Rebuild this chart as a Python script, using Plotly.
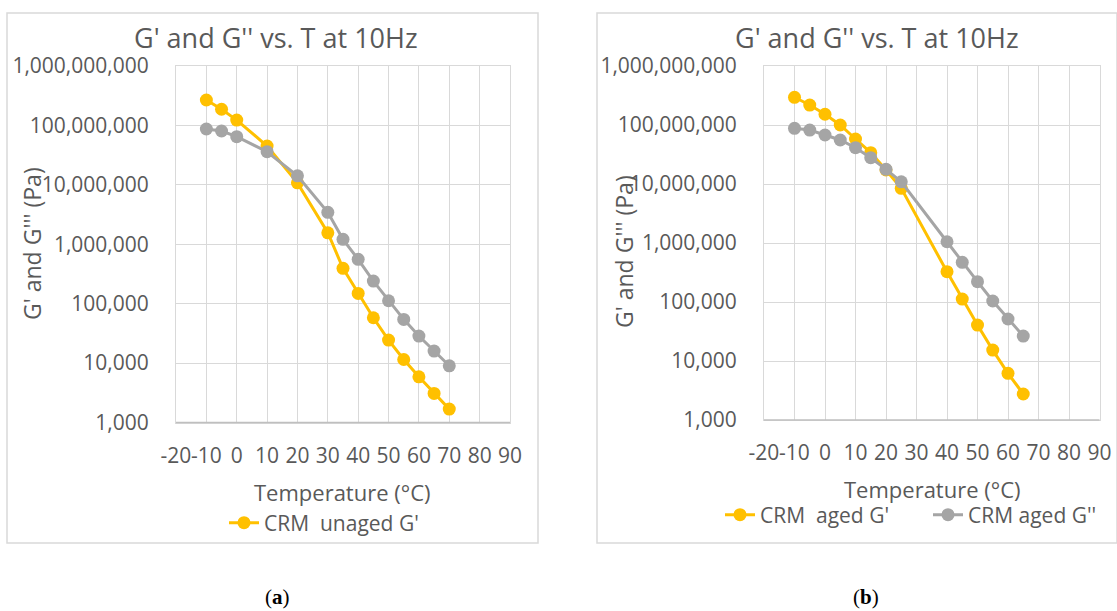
import plotly.graph_objects as go

# ---------------- data ----------------
T_a = [-10, -5, 0, 10, 20, 30, 35, 40, 45, 50, 55, 60, 65, 70]
Gp_unaged = [2.68e8, 1.87e8, 1.23e8, 4.5e7, 1.08e7, 1.56e6, 3.93e5, 1.49e5,
             5.79e4, 2.44e4, 1.15e4, 5.88e3, 3.09e3, 1.68e3]
Gpp_unaged = [8.7e7, 8.05e7, 6.46e7, 3.61e7, 1.42e7, 3.44e6, 1.21e6, 5.57e5,
              2.4e5, 1.12e5, 5.44e4, 2.85e4, 1.59e4, 9.0e3]

T_b = [-10, -5, 0, 5, 10, 15, 20, 25, 40, 45, 50, 55, 60, 65]
Gp_aged = [2.95e8, 2.18e8, 1.52e8, 1.0e8, 5.79e7, 3.4e7, 1.73e7, 8.45e6,
           3.26e5, 1.12e5, 4.07e4, 1.53e4, 6.19e3, 2.76e3]
Gpp_aged = [8.8e7, 8.2e7, 6.77e7, 5.57e7, 4.12e7, 2.79e7, 1.77e7, 1.09e7,
            1.05e6, 4.71e5, 2.21e5, 1.04e5, 5.15e4, 2.65e4]

y_tickvals = [1e3, 1e4, 1e5, 1e6, 1e7, 1e8, 1e9]
y_ticktext = ["1,000", "10,000", "100,000", "1,000,000", "10,000,000",
              "100,000,000", "1,000,000,000"]
x_tickvals = [-20, -10, 0, 10, 20, 30, 40, 50, 60, 70, 80, 90]
x_ticktext = [str(v) for v in x_tickvals]

chart_title = "G' and G'' vs. T at 10Hz"
x_title = "Temperature (°C)"
y_title = "G' and G''' (Pa)"

# ---------------- style ----------------
W, H = 1117, 611
YELLOW = "#FFC000"
GRAY = "#A5A5A5"
TXT = "#595959"
GRID = "#D9D9D9"
FONT = "Open Sans"


def px(x):
    return x / W


def py(y):
    return 1 - y / H


fig = go.Figure()

fig.add_trace(go.Scatter(x=T_a, y=Gp_unaged, mode="lines+markers",
                         name="CRM  unaged G'", line=dict(color=YELLOW, width=3),
                         marker=dict(size=13, color=YELLOW),
                         xaxis="x", yaxis="y", legend="legend"))
fig.add_trace(go.Scatter(x=T_a, y=Gpp_unaged, mode="lines+markers",
                         name="CRM  unaged G''", line=dict(color=GRAY, width=3),
                         marker=dict(size=13, color=GRAY), showlegend=False,
                         xaxis="x", yaxis="y"))
fig.add_trace(go.Scatter(x=T_b, y=Gp_aged, mode="lines+markers",
                         name="CRM  aged G'", line=dict(color=YELLOW, width=3),
                         marker=dict(size=13, color=YELLOW),
                         xaxis="x2", yaxis="y2", legend="legend2"))
fig.add_trace(go.Scatter(x=T_b, y=Gpp_aged, mode="lines+markers",
                         name="CRM aged G''", line=dict(color=GRAY, width=3),
                         marker=dict(size=13, color=GRAY),
                         xaxis="x2", yaxis="y2", legend="legend3"))

xcommon = dict(range=[-20, 90], tickmode="array", tickvals=x_tickvals,
               ticktext=x_ticktext, showgrid=True, gridcolor=GRID, gridwidth=1,
               zeroline=False, showline=True, mirror=True, linecolor=GRID,
               ticks="outside", ticklen=14, tickcolor="rgba(0,0,0,0)",
               tickangle=0, automargin=False,
               tickfont=dict(family=FONT, size=21, color=TXT), fixedrange=True)
ycommon = dict(type="log", range=[3, 9], tickmode="array", tickvals=y_tickvals,
               ticktext=y_ticktext, showgrid=True, gridcolor=GRID, gridwidth=1,
               zeroline=False, showline=True, mirror=True, linecolor=GRID,
               ticks="outside", ticklen=22, tickcolor="rgba(0,0,0,0)",
               automargin=False,
               tickfont=dict(family=FONT, size=21, color=TXT), fixedrange=True)

legfont = dict(family=FONT, size=21, color=TXT)
fig.update_layout(
    template="none",
    width=W, height=H, autosize=False,
    margin=dict(l=0, r=0, t=0, b=0, pad=0),
    paper_bgcolor="white", plot_bgcolor="white",
    xaxis=dict(xcommon, domain=[px(176), px(510)], anchor="y"),
    yaxis=dict(ycommon, domain=[py(422.5), py(66)], anchor="x"),
    xaxis2=dict(xcommon, domain=[px(764), px(1099.5)], anchor="y2"),
    yaxis2=dict(ycommon, domain=[py(420), py(66)], anchor="x2"),
    legend=dict(orientation="h", x=px(224), y=py(523), xanchor="left",
                yanchor="middle", font=legfont, bgcolor="rgba(0,0,0,0)"),
    legend2=dict(orientation="h", x=px(720), y=py(515), xanchor="left",
                 yanchor="middle", font=legfont, bgcolor="rgba(0,0,0,0)"),
    legend3=dict(orientation="h", x=px(928), y=py(515), xanchor="left",
                 yanchor="middle", font=legfont, bgcolor="rgba(0,0,0,0)"),
    showlegend=True,
)

# chart borders and darker axis baselines
shapes = [
    dict(type="rect", xref="paper", yref="paper", x0=px(7), x1=px(538),
         y0=py(543), y1=py(13), line=dict(color=GRID, width=1.5)),
    dict(type="rect", xref="paper", yref="paper", x0=px(597), x1=1.0,
         y0=py(543), y1=py(13), line=dict(color=GRID, width=1.5)),
    dict(type="line", xref="x domain", yref="y domain", x0=0, x1=1, y0=0, y1=0,
         line=dict(color="#BFBFBF", width=1.5)),
    dict(type="line", xref="x2 domain", yref="y2 domain", x0=0, x1=1, y0=0, y1=0,
         line=dict(color="#BFBFBF", width=1.5)),
]
fig.update_layout(shapes=shapes)

ann = []
for cx, ty, axc, axy, ayt, ayc in [(276, 37, 342, 492, 32, 244),
                                   (877, 37, 932, 489, 624, 252)]:
    ann.append(dict(text=chart_title, x=px(cx), y=py(ty), xref="paper", yref="paper",
                    showarrow=False, xanchor="center", yanchor="middle",
                    font=dict(family=FONT, size=27, color=TXT)))
    ann.append(dict(text=x_title, x=px(axc), y=py(axy), xref="paper", yref="paper",
                    showarrow=False, xanchor="center", yanchor="middle",
                    font=dict(family=FONT, size=22, color=TXT)))
    ann.append(dict(text=y_title, x=px(ayt), y=py(ayc), xref="paper", yref="paper",
                    showarrow=False, xanchor="center", yanchor="middle", textangle=-90,
                    font=dict(family=FONT, size=23, color=TXT)))
ann.append(dict(text="(<b>a</b>)", x=px(277), y=py(597), xref="paper", yref="paper",
                showarrow=False, xanchor="center", yanchor="middle",
                font=dict(family="Liberation Serif", size=21, color="black")))
ann.append(dict(text="(<b>b</b>)", x=px(866), y=py(597), xref="paper", yref="paper",
                showarrow=False, xanchor="center", yanchor="middle",
                font=dict(family="Liberation Serif", size=21, color="black")))
fig.update_layout(annotations=ann)

fig.write_html("out.html")
